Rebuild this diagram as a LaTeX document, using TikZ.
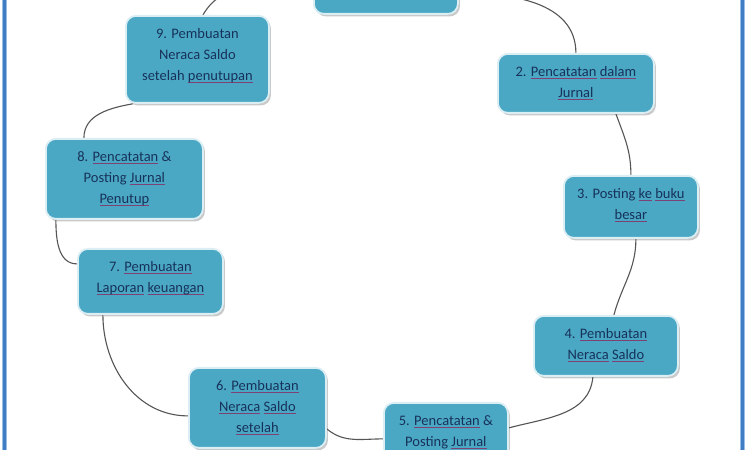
\documentclass[tikz,border=0pt]{standalone}
\usepackage{fontspec}
\setmainfont{Carlito}
\usetikzlibrary{shadows}
\definecolor{boxfill}{RGB}{75,168,196}
\definecolor{boxedge}{RGB}{218,238,244}
\definecolor{txtc}{RGB}{23,50,90}
\definecolor{linec}{RGB}{85,85,85}
\definecolor{sqc}{RGB}{125,65,115}
\definecolor{framec}{RGB}{65,125,195}
\definecolor{framel}{RGB}{150,190,230}
\newcommand\squig[1]{\setbox0\hbox{#1}\rlap{\color{sqc}\raisebox{-2.6pt}{\rule{\wd0}{0.6pt}}}\box0\relax}
\pgfdeclarelayer{bg}
\pgfsetlayers{bg,main}
\begin{document}
\begin{tikzpicture}[x=1pt,y=1pt,
  stepbox/.style={draw=boxedge, line width=1.8pt, fill=boxfill, rounded corners=10pt, anchor=north west, inner sep=0pt,
    drop shadow={shadow xshift=2pt, shadow yshift=-2.5pt, opacity=0.35, fill=black!60}},
  boxtext/.style={anchor=north, inner sep=0pt, align=center, text=txtc, font=\fontsize{14.5}{21}\selectfont},
  link/.style={draw=linec, line width=1.1pt}]
\useasboundingbox (0,0) rectangle (750,450);
\begin{scope}
\clip (0,0) rectangle (750,450);
% boxes
\node[stepbox, minimum width=144pt, minimum height=60pt] (b1) at (313,497) {};
\node[stepbox, minimum width=143pt, minimum height=87pt] (b9) at (125,435) {};
\node[stepbox, minimum width=156pt, minimum height=59pt] (b2) at (497,397) {};
\node[stepbox, minimum width=157pt, minimum height=80pt] (b8) at (45,312) {};
\node[stepbox, minimum width=134pt, minimum height=62pt] (b3) at (563,275) {};
\node[stepbox, minimum width=145pt, minimum height=65pt] (b7) at (77,202) {};
\node[stepbox, minimum width=144pt, minimum height=60pt] (b4) at (533,135) {};
\node[stepbox, minimum width=137pt, minimum height=80pt] (b6) at (188,83) {};
\node[stepbox, minimum width=124pt, minimum height=68pt] (b5) at (383,48) {};
% texts
\node[boxtext] (t9) at ([yshift=-13pt]b9.north) {9. Pembuatan\\Neraca Saldo\\setelah \squig{penutupan}};
\node[boxtext] (t2) at ([yshift=-13pt]b2.north) {2. \squig{Pencatatan} \squig{dalam}\\\squig{Jurnal}};
\node[boxtext] (t8) at ([yshift=-13pt]b8.north) {8. \squig{Pencatatan} \&\\Posting \squig{Jurnal}\\\squig{Penutup}};
\node[boxtext] (t3) at ([yshift=-13pt]b3.north) {3. Posting \squig{ke} \squig{buku}\\\squig{besar}};
\node[boxtext] (t7) at ([yshift=-13pt]b7.north) {7. \squig{Pembuatan}\\\squig{Laporan} \squig{keuangan}};
\node[boxtext] (t4) at ([yshift=-13pt]b4.north) {4. \squig{Pembuatan}\\\squig{Neraca} \squig{Saldo}};
\node[boxtext] (t6) at ([yshift=-13pt]b6.north) {6. \squig{Pembuatan}\\\squig{Neraca} \squig{Saldo}\\\squig{setelah}};
\node[boxtext] (t5) at ([yshift=-13pt]b5.north) {5. \squig{Pencatatan} \&\\Posting \squig{Jurnal}};
% background, frame and connectors
\begin{pgfonlayer}{bg}
\fill[white] (0,0) rectangle (750,450);
\fill[framel] (1.5,0) rectangle (6.5,450);
\fill[framec] (2.5,0) rectangle (5.5,450);
\fill[framel] (740,0) rectangle (745,450);
\fill[framec] (741,0) rectangle (744,450);
\draw[link] ([yshift=-9pt]b1.east) to[out=0,in=90] (b2.north);
\draw[link] ([xshift=40pt]b2.south) to[out=-70,in=90] (b3.north);
\draw[link] ([xshift=5pt]b3.south) to[out=-90,in=75] ([xshift=8pt]b4.north);
\draw[link] ([xshift=-13pt]b4.south) to[out=-95,in=15] ([yshift=9pt]b5.east);
\draw[link] ([yshift=-2pt]b5.west) to[out=180,in=-40] ([yshift=-21pt]b6.east);
\draw[link] ([yshift=-8pt]b6.west) to[out=180,in=-90] ([xshift=-47.5pt]b7.south);
\draw[link] ([yshift=17.5pt]b7.west) to[out=180,in=-90] ([xshift=-68.5pt]b8.south);
\draw[link] ([xshift=-40.5pt]b8.north) to[out=90,in=190] ([xshift=-64.5pt]b9.south);
\draw[link] ([xshift=5.5pt]b9.north) to[out=60,in=180] ([yshift=-5pt]b1.west);
\end{pgfonlayer}
\end{scope}
\end{tikzpicture}
\end{document}
